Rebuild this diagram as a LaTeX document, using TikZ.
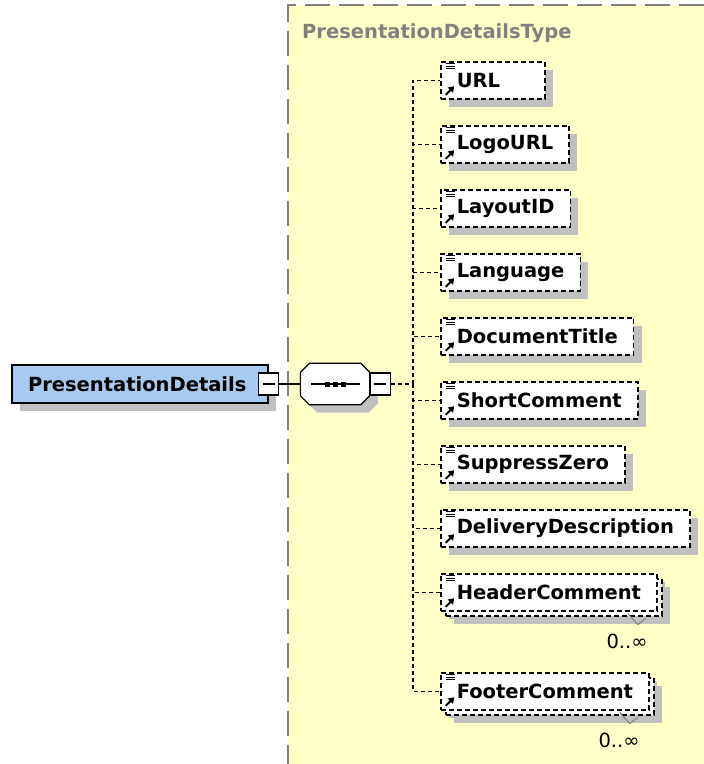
\documentclass[tikz,border=0pt]{standalone}
\usepackage{fontspec}
\setmainfont{DejaVu Sans}
\usepackage{tikz}
\usetikzlibrary{arrows.meta, positioning, shadows}

\definecolor{panelfill}{RGB}{255,255,200}
\definecolor{paneledge}{RGB}{128,128,128}
\definecolor{rootfill}{RGB}{166,202,240}
\definecolor{shadowgray}{RGB}{192,192,192}

\begin{document}
\begin{tikzpicture}[
    x=1pt, y=-1pt,
    node distance=25.5pt,
    shade/.style={drop shadow={shadow xshift=8pt, shadow yshift=-8pt, fill=shadowgray, opacity=1}},
    root/.style={draw, line width=1.5pt, fill=rootfill, shade, minimum height=38pt, text width=224pt, inner xsep=16pt, align=left, font=\fontsize{19.5}{23}\selectfont\bfseries},
    elem/.style={draw, line width=1.5pt, dash pattern=on 5pt off 3pt, fill=white, shade, minimum height=37pt, inner xsep=16pt, align=left, font=\fontsize{19.5}{23}\selectfont\bfseries,
        path picture={
            \foreach \dy in {2,4.5,7}
                \draw[solid, line width=1pt] ([shift={(5pt,-\dy pt)}]path picture bounding box.north west) -- ++(9pt,0pt);
            \draw[solid, line width=2pt, -{Triangle[length=5.5pt,width=7pt]}] ([shift={(5pt,4pt)}]path picture bounding box.south west) -- ++(8.5pt,8.5pt);
        }},
    multi/.style={general shadow={shadow xshift=13pt, shadow yshift=-13pt, fill=shadowgray, opacity=1},
        general shadow={shadow xshift=5pt, shadow yshift=-5pt, fill=white, draw=black, line width=1.5pt, dash pattern=on 5pt off 3pt, opacity=1}},
    minus/.style={draw, line width=1.2pt, fill=white, minimum width=20pt, minimum height=22pt, inner sep=0pt,
        path picture={\draw[line width=1.2pt] ([xshift=4pt]path picture bounding box.west) -- ([xshift=-4pt]path picture bounding box.east);}},
    seq/.style={minimum width=69pt, minimum height=41pt, inner sep=0pt},
    seqshape/.style={draw, line width=1.2pt, fill=white, shade},
    link/.style={line width=1.2pt},
    conn/.style={line width=1.2pt, dash pattern=on 4pt off 3pt},
    title/.style={text=paneledge, inner sep=0pt, font=\fontsize{19.5}{23}\selectfont\bfseries},
    mult/.style={inner sep=0pt, font=\fontsize{19.5}{23}\selectfont}
]
    \useasboundingbox (0,0) rectangle (704,764);

    % type panel
    \fill[panelfill] (288,5) rectangle (704,764);
    \draw[paneledge, line width=1.5pt, dash pattern=on 25pt off 9pt] (704,5) -- (288,5) -- (288,764);
    \node[title, anchor=west] (typename) at (302,33) {PresentationDetailsType};

    % element and sequence
    \node[root] (details) at (140,384) {PresentationDetails};
    \node[minus] (detailsminus) at (details.east) {};
    \node[seq, right=21pt of detailsminus] (seq) {};
    \draw[seqshape] ([xshift=9pt]seq.north west) -- ([xshift=-9pt]seq.north east) -- ([yshift=-9pt]seq.north east)
        -- ([yshift=9pt]seq.south east) -- ([xshift=-9pt]seq.south east) -- ([xshift=9pt]seq.south west)
        -- ([yshift=9pt]seq.south west) -- ([yshift=-9pt]seq.north west) -- cycle;
    \draw[link] ([xshift=11pt]seq.west) -- ([xshift=-10pt]seq.east);
    \foreach \dx in {-8,0,8}
        \fill ([xshift=\dx pt]seq.center) ++(-2.5pt,-2.5pt) rectangle ++(5pt,5pt);
    \node[minus, right=0pt of seq] (seqminus) {};
    \coordinate[right=22pt of seqminus] (trunk);

    % child elements
    \node[elem, text width=72pt, anchor=north west] (url) at (440,61) {URL};
    \node[elem, below=of url.south west, anchor=north west] (logourl) {LogoURL};
    \node[elem, below=of logourl.south west, anchor=north west] (layoutid) {LayoutID};
    \node[elem, below=of layoutid.south west, anchor=north west] (language) {Language};
    \node[elem, below=of language.south west, anchor=north west] (doctitle) {DocumentTitle};
    \node[elem, below=of doctitle.south west, anchor=north west] (shortcomment) {ShortComment};
    \node[elem, below=of shortcomment.south west, anchor=north west] (suppresszero) {SuppressZero};
    \node[elem, below=of suppresszero.south west, anchor=north west] (delivery) {DeliveryDescription};
    \node[elem, multi, below=of delivery.south west, anchor=north west] (header) {HeaderComment};
    \node[elem, multi, below=60.5pt of header.south west, anchor=north west] (footer) {FooterComment};

    % connectors
    \draw[link] (detailsminus) -- (seq);
    \draw[conn] (seqminus) -- (trunk);
    \foreach \child in {url, logourl, layoutid, language, doctitle, shortcomment, suppresszero, delivery, header, footer}
        \draw[conn] (trunk) |- (\child.west);

    % occurrence marks
    \foreach \child in {header, footer} {
        \draw[paneledge, line width=1pt] ([shift={(-30pt,-2pt)}]\child.south east) -- ++(10pt,-11pt) -- ++(8pt,6pt);
        \node[mult, anchor=north east] (\child-mult) at ([shift={(-10pt,-22pt)}]\child.south east) {0..∞};
    }
\end{tikzpicture}
\end{document}
